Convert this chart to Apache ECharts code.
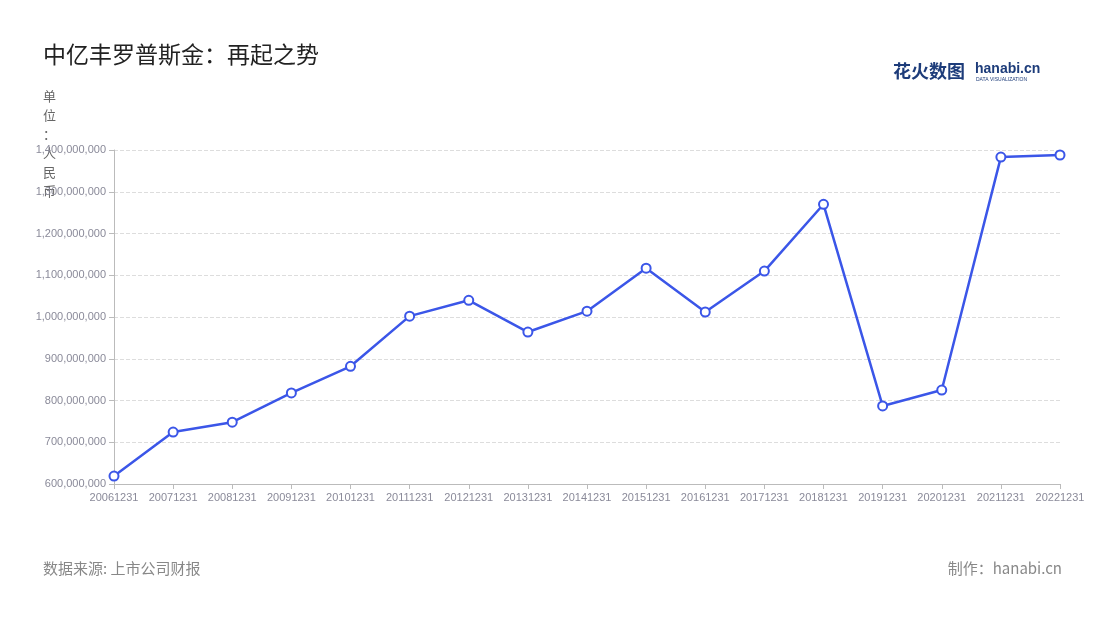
<!DOCTYPE html>
<html>
<head>
<meta charset="utf-8" />
<title>中亿丰罗普斯金：再起之势</title>
<script src="https://cdn.jsdelivr.net/npm/echarts@6/dist/echarts.min.js"></script>
<style>body{margin:0;background:#fff;}</style>
</head>
<body>
<div id="main" style="width:1100px;height:620px;"></div>
<script type="text/javascript">
    // 年报日期
    var years = ['20061231','20071231','20081231','20091231','20101231','20111231','20121231','20131231',
        '20141231','20151231','20161231','20171231','20181231','20191231','20201231','20211231','20221231'];
    // 营业收入（人民币）
    var revenue = [619000000,724500000,748000000,818000000,882000000,1002000000,1040000000,964000000,
        1014000000,1117000000,1012000000,1110000000,1270000000,787000000,825000000,1383000000,1388000000];

    var myChart = echarts.init(document.getElementById('main'));
    var option = {
        backgroundColor: '#fff',
        title: {
            text: '中亿丰罗普斯金：再起之势',
            left: 38, top: 38,
            textStyle: {fontSize: 23, fontWeight: 'normal', color: '#222', fontFamily: 'Noto Sans CJK SC'}
        },
        graphic: [
            {type: 'text', left: 893, top: 62, style: {text: '花火数图', fontSize: 18, fontWeight: 'bold', fill: '#1d3c7a', fontFamily: 'Noto Sans CJK SC'}},
            {type: 'text', left: 975, top: 62, style: {text: 'hanabi.cn', fontSize: 14, fontWeight: 'bold', fill: '#1d3c7a'}},
            {type: 'text', left: 976, top: 77, style: {text: 'DATA VISUALIZATION', fontSize: 5, fill: '#1d3c7a'}},
            {type: 'text', left: 43, bottom: 44, style: {text: '数据来源: 上市公司财报', fontSize: 15, fill: '#888', fontFamily: 'Noto Sans CJK SC'}},
            {type: 'text', right: 38, bottom: 44, style: {text: '制作：hanabi.cn', fontSize: 15, fill: '#888', fontFamily: 'Noto Sans CJK SC'}},
            {type: 'text', left: 43, top: 87, style: {text: '单\n位\n：\n人\n民\n币', fontSize: 13, lineHeight: 19, fill: '#666', fontFamily: 'Noto Sans CJK SC'}}
        ],
        grid: {left: 114, right: 40, top: 150, bottom: 136},
        tooltip: {trigger: 'axis'},
        xAxis: {
            type: 'category',
            data: years,
            boundaryGap: false,
            axisLine: {lineStyle: {color: '#bbb'}},
            axisTick: {lineStyle: {color: '#bbb'}},
            axisLabel: {color: '#8a8a99', fontSize: 11, interval: 0}
        },
        yAxis: {
            type: 'value',
            min: 600000000, max: 1400000000, interval: 100000000,
            axisLine: {show: true, lineStyle: {color: '#bbb'}},
            axisTick: {show: true, lineStyle: {color: '#bbb'}},
            axisLabel: {color: '#8a8a99', fontSize: 11, formatter: function (v) { return v.toLocaleString('en-US'); }},
            splitLine: {lineStyle: {type: 'dashed', color: '#ddd'}}
        },
        series: [{
            name: '营业收入',
            type: 'line',
            data: revenue,
            symbol: 'circle',
            symbolSize: 9,
            lineStyle: {color: '#3b56e8', width: 2.5},
            itemStyle: {color: '#fff', borderColor: '#3b56e8', borderWidth: 2}
        }]
    };
    myChart.setOption(option);
</script>
</body>
</html>
